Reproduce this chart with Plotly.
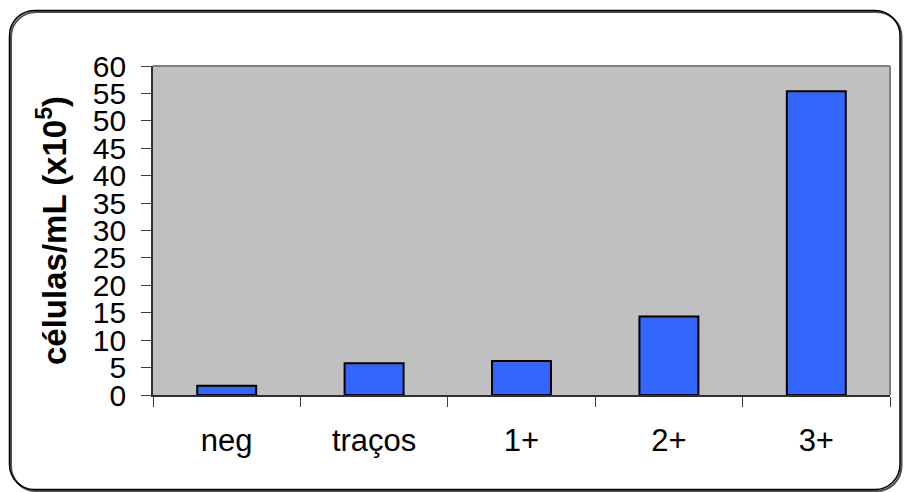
import plotly.graph_objects as go

# Cell counts by urine dipstick result
categories = ["neg", "traços", "1+", "2+", "3+"]
cells_x1e5 = [1.7, 5.8, 6.2, 14.3, 55.4]
y_ticks = [0, 5, 10, 15, 20, 25, 30, 35, 40, 45, 50, 55, 60]

W, H = 904, 492
ML, MR, MT, MB = 153, 14, 66, 97
PW, PH = W - ML - MR, H - MT - MB


def px_x(x):
    return (x - ML) / PW


def px_y(y):
    return (H - MB - y) / PH


def rounded_rect(x0, y0, x1, y1, r):
    k = 0.5523 * r
    pts = [
        f"M {px_x(x0 + r)},{px_y(y0)}",
        f"L {px_x(x1 - r)},{px_y(y0)}",
        f"C {px_x(x1 - r + k)},{px_y(y0)} {px_x(x1)},{px_y(y0 + r - k)} {px_x(x1)},{px_y(y0 + r)}",
        f"L {px_x(x1)},{px_y(y1 - r)}",
        f"C {px_x(x1)},{px_y(y1 - r + k)} {px_x(x1 - r + k)},{px_y(y1)} {px_x(x1 - r)},{px_y(y1)}",
        f"L {px_x(x0 + r)},{px_y(y1)}",
        f"C {px_x(x0 + r - k)},{px_y(y1)} {px_x(x0)},{px_y(y1 - r + k)} {px_x(x0)},{px_y(y1 - r)}",
        f"L {px_x(x0)},{px_y(y0 + r)}",
        f"C {px_x(x0)},{px_y(y0 + r - k)} {px_x(x0 + r - k)},{px_y(y0)} {px_x(x0 + r)},{px_y(y0)}",
        "Z",
    ]
    return " ".join(pts)


fig = go.Figure(
    go.Bar(
        x=categories,
        y=cells_x1e5,
        marker=dict(color="#3366FF", line=dict(color="#000000", width=2)),
        width=0.4,
    )
)

font_family = "Liberation Sans, Arial, sans-serif"

fig.update_layout(
    width=W,
    height=H,
    margin=dict(l=ML, r=MR, t=MT, b=MB, pad=0),
    paper_bgcolor="white",
    plot_bgcolor="#C0C0C0",
    showlegend=False,
    font=dict(family=font_family, color="black"),
    xaxis=dict(
        type="category",
        tickson="boundaries",
        ticks="outside",
        ticklen=10,
        tickwidth=1.2,
        tickcolor="#404040",
        showline=True,
        linecolor="#303030",
        linewidth=1.5,
        showgrid=False,
        tickfont=dict(size=31, family=font_family, color="black"),
        ticklabelstandoff=17,
    ),
    yaxis=dict(
        range=[0, 60],
        tickvals=y_ticks,
        ticks="outside",
        ticklen=10,
        tickwidth=1.2,
        tickcolor="#404040",
        showline=True,
        linecolor="#303030",
        linewidth=1.8,
        showgrid=False,
        zeroline=False,
        tickfont=dict(size=30, family=font_family, color="black"),
        ticklabelstandoff=9,
        title=dict(
            text="células/mL (x10<sup>5</sup>)",
            font=dict(size=33, family=font_family, color="black", weight="bold"),
            standoff=16,
        ),
    ),
    shapes=[
        # plot area frame (top and right)
        dict(type="line", xref="paper", yref="paper", x0=0, x1=1, y0=1, y1=1,
             line=dict(color="#808080", width=2), layer="above"),
        dict(type="line", xref="paper", yref="paper", x0=1, x1=1, y0=0, y1=1,
             line=dict(color="#808080", width=2), layer="above"),
        # outer chart border with a soft drop shadow
        dict(type="path", xref="paper", yref="paper",
             path=rounded_rect(11, 12, 901.5, 491, 25),
             line=dict(color="#505050", width=2)),
        dict(type="path", xref="paper", yref="paper",
             path=rounded_rect(9.5, 10.5, 900, 489.5, 25),
             line=dict(color="#000000", width=1.5)),
    ],
)

fig.write_html("out.html")
